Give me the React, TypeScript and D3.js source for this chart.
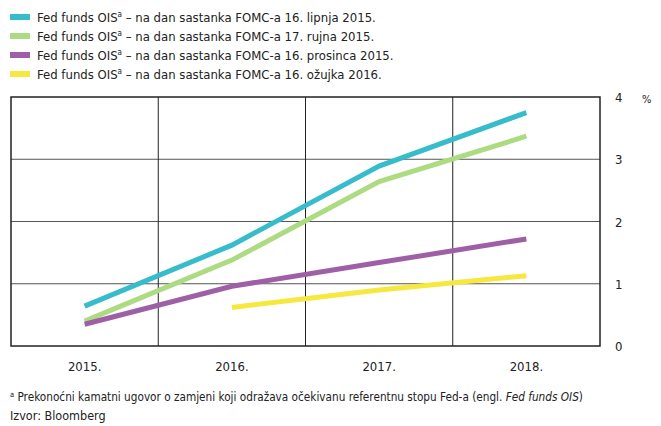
import * as d3 from "d3";

const years = ["2015.", "2016.", "2017.", "2018."];
const yTicks = [0, 1, 2, 3, 4];

const teal = [0.64, 1.62, 2.89, 3.75];
const green = [0.4, 1.38, 2.64, 3.37];
const purple = [0.35, 0.96, 1.34, 1.72];
const yellow = [null, 0.62, 0.9, 1.13];

const seriesNames = [
  "na dan sastanka FOMC-a 16. lipnja 2015.",
  "na dan sastanka FOMC-a 17. rujna 2015.",
  "na dan sastanka FOMC-a 16. prosinca 2015.",
  "na dan sastanka FOMC-a 16. ožujka 2016.",
];
const colors = ["#37bccb", "#addb82", "#9e5fa6", "#f6e83f"];

const width = 661;
const height = 426;
const margin = { top: 97, right: 61, bottom: 80, left: 11 };
const font = "'Liberation Sans Narrow', 'DejaVu Sans Condensed', sans-serif";

export default function App() {
  const x = d3
    .scaleBand()
    .domain(years)
    .range([margin.left, width - margin.right]);
  const y = d3
    .scaleLinear()
    .domain([0, 4])
    .range([height - margin.bottom, margin.top]);

  const line = d3
    .line<number | null>()
    .defined((d) => d != null)
    .x((_, i) => x(years[i])! + x.bandwidth() / 2)
    .y((d) => y(d as number));

  const all = [teal, green, purple, yellow];
  const x0 = margin.left;
  const x1 = width - margin.right;
  const y0 = y(0);
  const y4 = y(4);

  return (
    <svg
      width={width}
      height={height}
      style={{ position: "absolute", left: 0, top: 0, background: "#fff" }}
      fontFamily={font}
    >
      {/* legend */}
      {seriesNames.map((name, i) => (
        <g key={name} transform={`translate(10,${17 + i * 19})`}>
          <rect x={0} y={-3} width={20} height={6} fill={colors[i]} />
          <text x={27} y={5} fontSize={13} fill="#222">
            Fed funds OIS<tspan fontSize={8} dy={-5}>a</tspan>
            <tspan dy={5}> – {name}</tspan>
          </text>
        </g>
      ))}

      {/* grid */}
      {yTicks.slice(1, 4).map((t) => (
        <line key={t} x1={x0} x2={x1} y1={y(t)} y2={y(t)} stroke="#555" strokeWidth={1} />
      ))}
      {years.slice(1).map((yr) => (
        <line key={yr} x1={x(yr)} x2={x(yr)} y1={y4} y2={y0} stroke="#222" strokeWidth={1} />
      ))}
      <rect x={x0} y={y4} width={x1 - x0} height={y0 - y4} fill="none" stroke="#222" strokeWidth={1.5} />

      {/* lines */}
      {all.map((s, i) => (
        <path key={i} d={line(s) ?? ""} fill="none" stroke={colors[i]} strokeWidth={5} />
      ))}

      {/* x labels */}
      {years.map((yr) => (
        <text key={yr} x={x(yr)! + x.bandwidth() / 2} y={371} fontSize={13} textAnchor="middle" fill="#222">
          {yr}
        </text>
      ))}

      {/* y labels */}
      {yTicks.map((t) => (
        <text key={t} x={615} y={y(t) + 5} fontSize={13} fill="#222">
          {t}
        </text>
      ))}
      <text x={642} y={y(4) + 6} fontSize={11} fill="#222">%</text>

      {/* footnote */}
      <text x={10} y={401} fontSize={11.7} fill="#222">
        <tspan fontSize={7.5} dy={-4}>a</tspan>
        <tspan dy={4}> Prekonoćni kamatni ugovor o zamjeni koji odražava očekivanu referentnu stopu Fed-a (engl. </tspan>
        <tspan fontStyle="italic">Fed funds OIS</tspan>
        <tspan>)</tspan>
      </text>
      <text x={10} y={420} fontSize={12.5} fill="#222">Izvor: Bloomberg</text>
    </svg>
  );
}
